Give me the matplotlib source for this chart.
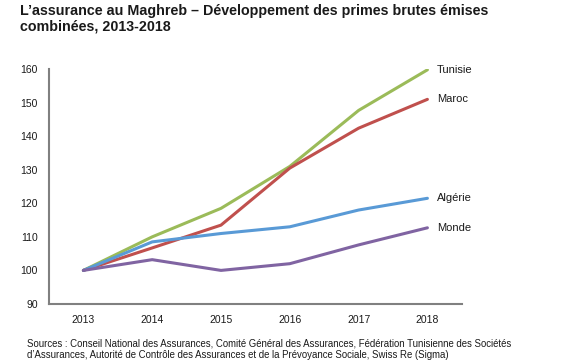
import matplotlib.pyplot as plt

plt.rcParams['font.family'] = ['Liberation Sans', 'DejaVu Sans']

# Données (indice 2013 = 100)
annees = [2013, 2014, 2015, 2016, 2017, 2018]
tunisie = [100, 110, 118.5, 131, 147.7, 159.8]
maroc = [100, 106.7, 113.5, 130.5, 142.4, 151]
algerie = [100, 108.5, 111, 113, 118, 121.5]
monde = [100, 103.2, 100, 102, 107.6, 112.7]

series = [
    ('Tunisie', tunisie, '#9BBB59'),
    ('Maroc', maroc, '#C0504D'),
    ('Algérie', algerie, '#599AD6'),
    ('Monde', monde, '#8064A2'),
]

fig = plt.figure(figsize=(5.79, 3.64), dpi=100)
ax = fig.add_axes([0.0846, 0.165, 0.713, 0.645])

for nom, vals, couleur in series:
    ax.plot(annees, vals, color=couleur, lw=2.2, solid_capstyle='round')
    ax.annotate(nom, (annees[-1], vals[-1]), xytext=(7, 0), textcoords='offset points',
                fontsize=8, va='center', ha='left', color='#1a1a1a')

ax.set_xlim(2012.5, 2018.5)
ax.set_ylim(90, 160)
ax.set_yticks(range(90, 161, 10))
ax.set_xticks(annees)
ax.tick_params(length=0, labelsize=7.5, colors='#1a1a1a', pad=8)
ax.tick_params(axis='x', pad=8)

for s in ['top', 'right']:
    ax.spines[s].set_visible(False)
for s in ['left', 'bottom']:
    ax.spines[s].set_color('#808080')
    ax.spines[s].set_linewidth(1.5)

fig.text(0.035, 0.99, "L\u2019assurance au Maghreb \u2013 Développement des primes brutes émises\ncombinées, 2013-2018",
         fontsize=10.3, fontweight='bold', va='top', ha='left', color='#1a1a1a', linespacing=1.15)

fig.text(0.047, 0.012, "Sources : Conseil National des Assurances, Comité Général des Assurances, Fédération Tunisienne des Sociétés\n"
         "d\u2019Assurances, Autorité de Contrôle des Assurances et de la Prévoyance Sociale, Swiss Re (Sigma)",
         fontsize=6.95, va='bottom', ha='left', color='#1a1a1a', linespacing=1.2)

plt.savefig('out.png', dpi=100)
